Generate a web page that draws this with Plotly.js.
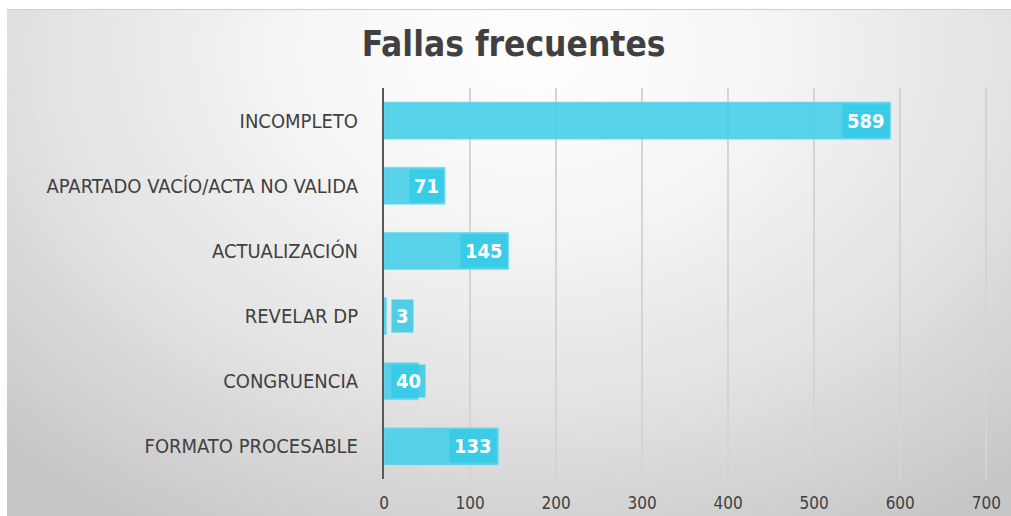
<!DOCTYPE html>
<html><head><meta charset="utf-8">
<script src="https://cdn.plot.ly/plotly-3.0.1.min.js"></script>
<style>
html,body{margin:0;padding:0;background:#fff;}
#bg{position:absolute;left:7px;top:9px;width:1004px;height:507px;
background:radial-gradient(ellipse 75% 110% at 52% 8%, #ffffff 0%, #f6f6f6 30%, #e2e2e2 65%, #c6c6c6 100%);
border-top:1px solid #cfcfcf;box-sizing:border-box;}
#chart{position:absolute;left:0;top:0;width:1011px;height:516px;}
</style></head>
<body>
<div id="bg"></div>
<div id="chart"></div>
<script>
const categories = ["INCOMPLETO","APARTADO VACÍO/ACTA NO VALIDA","ACTUALIZACIÓN","REVELAR DP","CONGRUENCIA","FORMATO PROCESABLE"];
const values = [589, 71, 145, 3, 40, 133];
const tickVals = [0,100,200,300,400,500,600,700];

const FONT = '"DejaVu Sans Condensed", "DejaVu Sans", sans-serif';

const trace = {
  type:'bar', orientation:'h',
  x: values, y: categories,
  marker:{color:'rgba(74,207,232,0.92)', line:{color:'rgba(130,222,240,0.6)', width:1}},
  width:0.57, hoverinfo:'none'
};

const annotations = values.map((v,i)=>{
  const small = v < 50;
  return {
    x: small ? 0 : v, y: categories[i], xref:'x', yref:'y',
    text: '<b>' + String(v) + '</b>', showarrow:false,
    xanchor: small ? 'left' : 'right',
    xshift: small ? 7 : -1,
    font:{family:FONT, size:20, color:'#ffffff'},
    bgcolor:'rgba(52,202,230,0.85)', borderpad:4
  };
});

const layout = {
  width:1011, height:516,
  paper_bgcolor:'rgba(0,0,0,0)', plot_bgcolor:'rgba(0,0,0,0)',
  margin:{l:384, r:23, t:88, b:37, pad:0},
  title:{text:'<b>Fallas frecuentes</b>', x:0.508, xanchor:'center', y:0.915, yanchor:'middle',
    font:{family:FONT, size:35, color:'#404040'}},
  showlegend:false,
  xaxis:{range:[0,702], tickvals:tickVals, showgrid:true, gridcolor:'#d4d4d4', gridwidth:2,
    zeroline:false, showline:false, ticks:'', ticklabelstandoff:12,
    tickfont:{family:FONT, size:17, color:'#404040'}, fixedrange:true},
  yaxis:{autorange:'reversed', type:'category', showgrid:false, zeroline:false,
    showline:true, linecolor:'#595959', linewidth:2, ticks:'', ticklabelstandoff:20,
    tickfont:{family:FONT, size:20, color:'#404040'}, fixedrange:true},
  annotations: annotations,
  bargap:0.43
};

Plotly.newPlot('chart',[trace],layout,{displayModeBar:false, staticPlot:true});
</script>
</body></html>
